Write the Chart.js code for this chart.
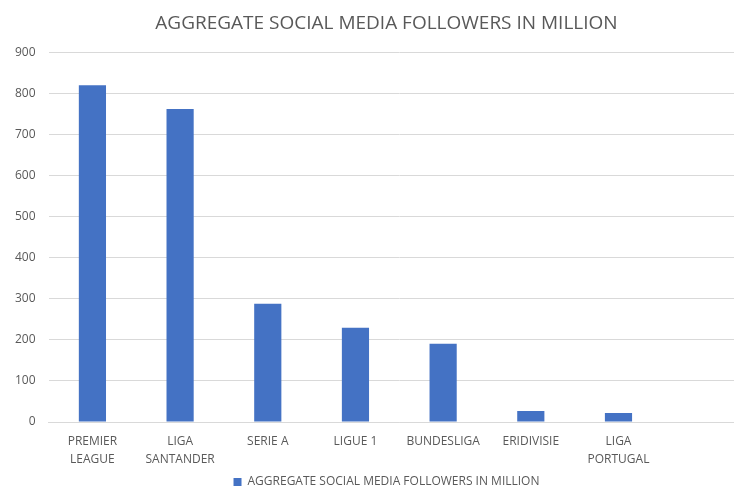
<!DOCTYPE html>
<html>
<head>
<meta charset="utf-8">
<script src="https://cdn.jsdelivr.net/npm/chart.js@4"></script>
<style>
  html, body { margin: 0; padding: 0; background: #fff; overflow: hidden; }
  #wrap { width: 734px; height: 489px; overflow: hidden; }
</style>
</head>
<body>
<div id="wrap"><canvas id="leagues" width="773" height="498"></canvas></div>
<script>
// leagues, last slot is empty in the original sheet
const leagues = [
  ['PREMIER', 'LEAGUE'],
  ['LIGA', 'SANTANDER'],
  'SERIE A',
  'LIGUE 1',
  'BUNDESLIGA',
  'ERIDIVISIE',
  ['LIGA', 'PORTUGAL'],
  ''
];
const followers = [821, 763, 288, 230, 191, 27, 22, null];
const yTicks = [0, 100, 200, 300, 400, 500, 600, 700, 800, 900];

const seriesName = 'AGGREGATE SOCIAL MEDIA FOLLOWERS IN MILLION';
const grey = '#595959';

const league_data = {
  labels: leagues,
  datasets: [{
    label: seriesName,
    data: followers,
    backgroundColor: '#4472C4',
    borderWidth: 0,
    categoryPercentage: 1,
    barPercentage: 0.31
  }]
};

const league_config = {
  type: 'bar',
  data: league_data,
  options: {
    responsive: false,
    animation: false,
    layout: {
      padding: { left: 2, right: 2, top: 10, bottom: 0 }
    },
    plugins: {
      title: {
        display: true,
        text: seriesName,
        color: grey,
        font: { family: 'Open Sans', size: 19, weight: 'normal' },
        padding: { top: 2, bottom: 18 }
      },
      legend: {
        position: 'bottom',
        labels: {
          color: grey,
          font: { family: 'Open Sans', size: 12 },
          boxWidth: 8,
          boxHeight: 8,
          padding: 4
        }
      },
      tooltip: { enabled: false }
    },
    scales: {
      x: {
        grid: { display: false },
        border: { color: '#d9d9d9', width: 1 },
        ticks: {
          color: grey,
          font: { family: 'Open Sans', size: 12, lineHeight: 1.5 },
          maxRotation: 0,
          autoSkip: false,
          padding: 3
        }
      },
      y: {
        min: yTicks[0],
        max: yTicks[yTicks.length - 1],
        afterBuildTicks: axis => { axis.ticks = yTicks.map(v => ({ value: v })); },
        grid: { color: '#d9d9d9', drawTicks: false },
        border: { display: false },
        ticks: {
          color: grey,
          font: { family: 'Open Sans', size: 12 },
          padding: 13
        }
      },
      // empty strip on the right so title/legend stay centred like the original
      yRight: {
        position: 'right',
        grid: { display: false },
        border: { display: false },
        ticks: { display: false },
        afterFit: axis => { axis.width = 21; }
      }
    }
  }
};

const league_chart = new Chart(
  document.getElementById('leagues'),
  league_config
);
</script>
</body>
</html>
